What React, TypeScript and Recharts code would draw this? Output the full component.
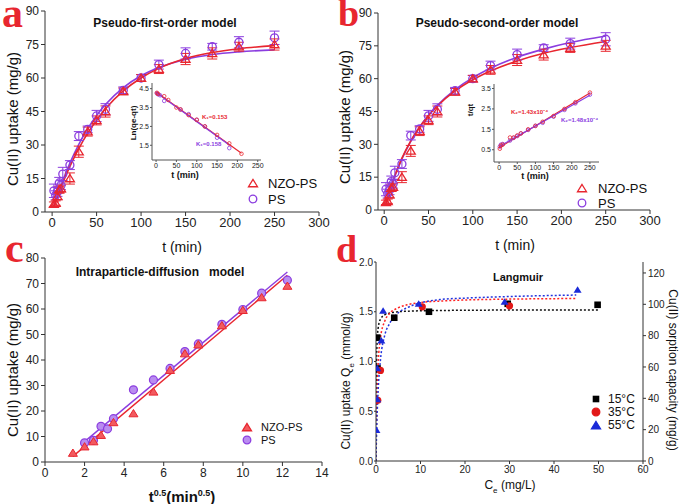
import React from "react";
import {
  ComposedChart,
  Scatter,
  Line,
  XAxis,
  YAxis,
  ErrorBar,
} from "recharts";

const FONT = '"Liberation Sans", Arial, sans-serif';
const RED = "#e8262f";
const PURPLE = "#8b3ddf";
const AXIS = "#333";

// kinetic data (panels a, b)
const NZO_T = [2, 4, 6, 8, 10, 20, 30, 40, 50, 60, 80, 100, 120, 150, 180, 210, 250];
const NZO_Q = [3.5, 4, 7, 10, 10.5, 15, 27, 36, 41, 45, 54, 60, 64, 68.5, 71, 74, 75];
const NZO_ERR = [1, 1, 1.5, 1.5, 1.5, 2.5, 2.5, 2, 2, 2.5, 1.5, 1.5, 2, 2.5, 2.5, 2, 2.5];
const PS_T = [2, 4, 6, 8, 10, 12, 20, 30, 40, 50, 60, 80, 100, 120, 150, 180, 210, 250];
const PS_Q = [9.5, 7.5, 9, 13, 12, 17, 21, 34, 37, 43, 46, 54.5, 60, 66, 71, 74, 76, 78];
const PS_ERR = [3, 2, 2, 2.5, 2, 3, 2, 2, 1.5, 2.5, 2.5, 1.5, 1.5, 2, 2.5, 1.5, 2.5, 3];

// fitted curves
const FIT_T = [2, 5, 10, 20, 30, 40, 50, 60, 80, 100, 120, 150, 180, 210, 250];
const PFO_NZO = [2.3, 5.7, 11.0, 20.4, 28.4, 35.3, 41.1, 46.2, 54.2, 60.0, 64.3, 68.7, 71.4, 73.1, 74.5];
const PFO_PS = [2.6, 6.2, 11.9, 21.9, 30.3, 37.3, 43.2, 48.1, 55.7, 61.0, 64.7, 68.3, 70.5, 71.7, 72.6];
const PSO_NZO = [3.0, 7.3, 13.5, 23.7, 31.6, 37.9, 43.2, 47.5, 54.4, 59.5, 63.5, 68.1, 71.6, 74.2, 77.0];
const PSO_PS = [2.9, 7.1, 13.2, 23.3, 31.4, 37.9, 43.3, 47.8, 55.0, 60.5, 64.8, 69.8, 73.5, 76.5, 79.5];

// inset a: ln(qe-qt)
const LN_NZO_T = [2, 5, 20, 30, 50, 60, 80, 100, 120, 150, 180, 210];
const LN_NZO = [4.28, 4.22, 4.1, 3.9, 3.5, 3.4, 3.1, 2.85, 2.5, 2.05, 1.6, 1.05];
const LN_PS_T = [2, 5, 10, 20, 60, 80, 100, 120, 150, 180];
const LN_PS = [4.25, 4.2, 4.15, 3.85, 3.4, 3.15, 2.85, 2.5, 1.9, 1.35];
const LN_FIT_NZO = [[0, 4.32], [210, 1.08]];
const LN_FIT_PS = [[0, 4.3], [180, 1.52]];

// inset b: t/qt
const TQ_T = [2, 5, 10, 30, 40, 50, 60, 80, 100, 120, 150, 180, 210, 250];
const TQ_NZO = [0.55, 0.7, 0.75, 1.1, 1.1, 1.2, 1.3, 1.5, 1.67, 1.87, 2.15, 2.5, 2.83, 3.3];
const TQ_PS = [0.65, 0.75, 0.78, 0.95, 1.08, 1.17, 1.3, 1.47, 1.67, 1.82, 2.12, 2.45, 2.77, 3.2];
const TQ_FIT_NZO = [[0, 0.6], [250, 3.28]];
const TQ_FIT_PS = [[0, 0.66], [250, 3.17]];

// panel c: intraparticle diffusion
const IPD_NZO_X = [1.41, 2, 2.45, 2.83, 3.46, 4.47, 5.48, 6.32, 7.07, 7.75, 8.94, 10, 10.95, 12.25];
const IPD_NZO_Y = [3.5, 6, 8, 10.5, 15.5, 19, 27.5, 36, 42.5, 46, 53.5, 59.5, 64.5, 69];
const IPD_PS_X = [2, 2.45, 2.83, 3.16, 3.46, 4.47, 5.48, 6.32, 7.07, 7.75, 8.94, 10, 10.95, 12.25];
const IPD_PS_Y = [7.5, 8.5, 14, 13, 17, 28.3, 32.2, 36.7, 43.3, 46.3, 54, 59.8, 66.2, 71.3];
const IPD_FIT_NZO = [[1.41, 2.2], [12.25, 73.2]];
const IPD_FIT_PS = [[2, 8], [12.25, 74.5]];

// panel d: Langmuir
const L15_C = [0.3, 0.35, 4.1, 11.9, 29.6, 49.8];
const L15_Q = [1.24, 0.93, 1.44, 1.5, 1.58, 1.57];
const L35_C = [0.4, 1.0, 10.4, 30];
const L35_Q = [0.61, 0.91, 1.55, 1.56];
const L55_C = [0.1, 0.3, 0.3, 1.2, 1.6, 9.6, 28.9, 45.3];
const L55_Q = [0.31, 0.62, 0.93, 1.21, 1.51, 1.58, 1.6, 1.72];
const LFIT_C = [0, 0.05, 0.1, 0.2, 0.5, 1, 2, 3, 5, 7, 10, 15, 20, 30, 45, 50];
const LFIT_15 = [0, 0.65, 0.91, 1.14, 1.34, 1.425, 1.47, 1.486, 1.5, 1.505, 1.51, 1.513, 1.515, 1.517, 1.518, 1.518];
const LFIT_C2 = [0, 0.05, 0.1, 0.2, 0.5, 1, 2, 3, 5, 7, 10, 15, 20, 30, 45];
const LFIT_35 = [0, 0.215, 0.38, 0.617, 0.987, 1.234, 1.41, 1.48, 1.54, 1.57, 1.592, 1.609, 1.618, 1.627, 1.633];
const LFIT_55 = [0, 0.118, 0.22, 0.39, 0.724, 1.014, 1.27, 1.377, 1.49, 1.54, 1.59, 1.625, 1.637, 1.653, 1.668];

const pts = (xs: number[], ys: number[], es?: number[]) =>
  xs.map((x, i) => ({ x, y: ys[i], e: es ? es[i] : 0 }));
const seg = (p: number[][]) => p.map(([x, y]) => ({ x, y }));

function Tri({ cx, cy, color, fill, s = 4.5, w = 1.3 }: any) {
  if (cx == null || cy == null) return null;
  const h = s * 0.9;
  return (
    <polygon
      points={`${cx},${cy - h} ${cx - s},${cy + h * 0.8} ${cx + s},${cy + h * 0.8}`}
      fill={fill}
      stroke={color}
      strokeWidth={w}
    />
  );
}

function Circ({ cx, cy, color, fill, r = 4, w = 1.3 }: any) {
  if (cx == null || cy == null) return null;
  return <circle cx={cx} cy={cy} r={r} fill={fill} stroke={color} strokeWidth={w} />;
}

function Sq({ cx, cy, color, s = 3.5 }: any) {
  if (cx == null || cy == null) return null;
  return <rect x={cx - s} y={cy - s} width={s * 2} height={s * 2} fill={color} />;
}

function T({ x, y, size, children, bold, color = "#111", rot, left }: any) {
  const tr = left
    ? `translate(0,-50%)`
    : `translate(-50%,-50%)${rot ? ` rotate(${rot}deg)` : ""}`;
  return (
    <div
      style={{
        position: "absolute",
        left: x,
        top: y,
        transform: tr,
        fontSize: size,
        fontWeight: bold ? "bold" : "normal",
        color,
        fontFamily: FONT,
        whiteSpace: "pre",
        lineHeight: 1,
      }}
    >
      {children}
    </div>
  );
}

// big red panel letter; baseline sits about 0.64*size below top
function Letter({ x, y, ch, size = 42 }: any) {
  return (
    <div
      style={{
        position: "absolute",
        left: x,
        top: y,
        fontSize: size,
        lineHeight: 0.6,
        fontWeight: "bold",
        color: RED,
        fontFamily: '"Liberation Serif", "Times New Roman", serif',
      }}
    >
      {ch}
    </div>
  );
}

const tickStyle = (fs: number) => ({ fontSize: fs, fill: "#222", fontFamily: FONT });

function Frame({ xd, yd }: { xd: number[]; yd: number[] }) {
  return [
    <XAxis
      key="top"
      xAxisId="top"
      orientation="top"
      type="number"
      domain={xd}
      height={0}
      tick={false}
      tickLine={false}
      axisLine={{ stroke: AXIS }}
      allowDataOverflow
    />,
    <YAxis
      key="right"
      yAxisId="right"
      orientation="right"
      type="number"
      domain={yd}
      width={0}
      tick={false}
      tickLine={false}
      axisLine={{ stroke: AXIS }}
      allowDataOverflow
    />,
  ];
}

function KineticPanel({ left, margin, xd, yw, fitN, fitP }: any) {
  return (
    <div style={{ position: "absolute", left, top: 0 }}>
      <ComposedChart width={left === 0 ? 340 : 345} height={250} margin={margin}>
        <XAxis
          dataKey="x"
          type="number"
          domain={xd}
          ticks={[0, 50, 100, 150, 200, 250, 300]}
          tick={tickStyle(13)}
          tickSize={4}
          tickMargin={2}
          height={30}
          stroke={AXIS}
          allowDataOverflow
        />
        <YAxis
          dataKey="y"
          type="number"
          domain={[0, 90]}
          ticks={[0, 15, 30, 45, 60, 75, 90]}
          tick={tickStyle(12)}
          tickSize={4}
          tickMargin={2}
          width={yw}
          stroke={AXIS}
          allowDataOverflow
        />
        {Frame({ xd, yd: [0, 90] })}
        <Line data={pts(FIT_T, fitP)} dataKey="y" type="monotone" stroke={PURPLE} strokeWidth={1.6} dot={false} isAnimationActive={false} />
        <Line data={pts(FIT_T, fitN)} dataKey="y" type="monotone" stroke={RED} strokeWidth={1.6} dot={false} isAnimationActive={false} />
        <Scatter
          data={pts(PS_T, PS_Q, PS_ERR)}
          dataKey="y"
          isAnimationActive={false}
          shape={(p: any) => <Circ {...p} color={PURPLE} fill="none" />}
        >
          <ErrorBar dataKey="e" direction="y" width={5} stroke={PURPLE} strokeWidth={1} />
        </Scatter>
        <Scatter
          data={pts(NZO_T, NZO_Q, NZO_ERR)}
          dataKey="y"
          isAnimationActive={false}
          shape={(p: any) => <Tri {...p} color={RED} fill="none" />}
        >
          <ErrorBar dataKey="e" direction="y" width={5} stroke={RED} strokeWidth={1} />
        </Scatter>
      </ComposedChart>
    </div>
  );
}

function Inset({ left, margin, xd, xt, yd, yt, nzo, ps, fitN, fitP }: any) {
  return (
    <div style={{ position: "absolute", left, top: 78 }}>
      <ComposedChart width={140} height={105} margin={margin}>
        <XAxis
          dataKey="x"
          type="number"
          domain={xd}
          ticks={xt}
          tick={tickStyle(7)}
          tickSize={2}
          tickMargin={1}
          height={12}
          stroke="#555"
          allowDataOverflow
        />
        <YAxis
          dataKey="y"
          type="number"
          domain={yd}
          ticks={yt}
          tick={tickStyle(7)}
          tickFormatter={(v: number) => v.toFixed(1)}
          tickSize={2}
          tickMargin={1}
          width={15}
          stroke="#555"
          allowDataOverflow
        />
        {Frame({ xd, yd })}
        <Line data={seg(fitN)} dataKey="y" type="linear" stroke={RED} strokeWidth={1.2} dot={false} isAnimationActive={false} />
        <Line data={seg(fitP)} dataKey="y" type="linear" stroke={PURPLE} strokeWidth={1.2} dot={false} isAnimationActive={false} />
        <Scatter data={ps} dataKey="y" isAnimationActive={false} shape={(p: any) => <Circ {...p} r={1.8} w={0.8} color={PURPLE} fill="none" />} />
        <Scatter data={nzo} dataKey="y" isAnimationActive={false} shape={(p: any) => <Circ {...p} r={1.8} w={0.8} color={RED} fill="none" />} />
      </ComposedChart>
    </div>
  );
}

function LegendMark({ x, y, kind, color, fill }: any) {
  return (
    <svg style={{ position: "absolute", left: x - 6, top: y - 6 }} width={12} height={12}>
      {kind === "tri" && <Tri cx={6} cy={6.5} color={color} fill={fill} s={4.5} />}
      {kind === "circ" && <Circ cx={6} cy={6} r={3.8} color={color} fill={fill} />}
      {kind === "sq" && <Sq cx={6} cy={6} color={color} s={3.3} />}
    </svg>
  );
}

export default function App() {
  return (
    <div
      style={{
        position: "absolute",
        left: 0,
        top: 0,
        width: 685,
        height: 504,
        background: "#fff",
        overflow: "hidden",
      }}
    >
      {/* panel a */}
      <KineticPanel
        left={0}
        margin={{ top: 11, right: 21, left: 5, bottom: 8 }}
        xd={[-8, 300]}
        yw={40}
        fitN={PFO_NZO}
        fitP={PFO_PS}
      />
      {/* panel b */}
      <KineticPanel
        left={340}
        margin={{ top: 13, right: 35, left: 3, bottom: 10 }}
        xd={[-7, 300]}
        yw={35}
        fitN={PSO_NZO}
        fitP={PSO_PS}
      />
      <Inset
        left={125}
        margin={{ top: 5, right: 4, left: 12, bottom: 11 }}
        xd={[-10, 258]}
        xt={[0, 50, 100, 150, 200, 250]}
        yd={[0.72, 4.8]}
        yt={[1, 1.5, 2, 2.5, 3, 3.5, 4, 4.5]}
        nzo={pts(LN_NZO_T, LN_NZO)}
        ps={pts(LN_PS_T, LN_PS)}
        fitN={LN_FIT_NZO}
        fitP={LN_FIT_PS}
      />
      <Inset
        left={465}
        margin={{ top: 6, right: 6, left: 14, bottom: 9 }}
        xd={[-14, 275]}
        xt={[0, 50, 100, 150, 200, 250]}
        yd={[-0.1, 3.72]}
        yt={[0, 0.5, 1, 1.5, 2, 2.5, 3, 3.5]}
        nzo={pts(TQ_T, TQ_NZO)}
        ps={pts(TQ_T, TQ_PS)}
        fitN={TQ_FIT_NZO}
        fitP={TQ_FIT_PS}
      />

      {/* panel c */}
      <div style={{ position: "absolute", left: 0, top: 250 }}>
        <ComposedChart width={340} height={254} margin={{ top: 8, right: 18, left: 5, bottom: 17 }}>
          <XAxis
            dataKey="x"
            type="number"
            domain={[0, 14]}
            ticks={[0, 2, 4, 6, 8, 10, 12, 14]}
            tick={tickStyle(12)}
            tickSize={4}
            tickMargin={2}
            height={25}
            stroke={AXIS}
            allowDataOverflow
          />
          <YAxis
            dataKey="y"
            type="number"
            domain={[0, 80]}
            ticks={[0, 10, 20, 30, 40, 50, 60, 70, 80]}
            tick={tickStyle(12)}
            tickSize={4}
            tickMargin={2}
            width={40}
            stroke={AXIS}
            allowDataOverflow
          />
          {Frame({ xd: [0, 14], yd: [0, 80] })}
          <Line data={seg(IPD_FIT_PS)} dataKey="y" type="linear" stroke={PURPLE} strokeWidth={1.4} dot={false} isAnimationActive={false} />
          <Line data={seg(IPD_FIT_NZO)} dataKey="y" type="linear" stroke={RED} strokeWidth={1.4} dot={false} isAnimationActive={false} />
          <Scatter data={pts(IPD_PS_X, IPD_PS_Y)} dataKey="y" isAnimationActive={false} shape={(p: any) => <Circ {...p} r={4} w={1.2} color={PURPLE} fill="#b98cf0" />} />
          <Scatter data={pts(IPD_NZO_X, IPD_NZO_Y)} dataKey="y" isAnimationActive={false} shape={(p: any) => <Tri {...p} s={4.5} w={1} color={RED} fill="#f25a5f" />} />
        </ComposedChart>
      </div>

      {/* panel d */}
      <div style={{ position: "absolute", left: 340, top: 250 }}>
        <ComposedChart width={345} height={254} margin={{ top: 12, right: 12, left: 6, bottom: 18 }}>
          <XAxis
            dataKey="x"
            type="number"
            domain={[0, 60]}
            ticks={[0, 10, 20, 30, 40, 50, 60]}
            tick={tickStyle(10)}
            tickSize={3}
            tickMargin={2}
            height={25}
            stroke={AXIS}
            allowDataOverflow
          />
          <YAxis
            dataKey="y"
            type="number"
            domain={[0, 2]}
            ticks={[0, 0.5, 1, 1.5, 2]}
            tickFormatter={(v: number) => v.toFixed(1)}
            tick={tickStyle(10)}
            tickSize={2}
            tickMargin={1}
            width={30}
            stroke={AXIS}
            allowDataOverflow
          />
          <YAxis
            yAxisId="mg"
            orientation="right"
            type="number"
            domain={[0, 127]}
            ticks={[0, 20, 40, 60, 80, 100, 120]}
            tick={tickStyle(10)}
            tickSize={3}
            tickMargin={2}
            width={30}
            stroke={AXIS}
            allowDataOverflow
          />
          <XAxis
            xAxisId="top"
            orientation="top"
            type="number"
            domain={[0, 60]}
            height={0}
            tick={false}
            tickLine={false}
            axisLine={{ stroke: AXIS }}
            allowDataOverflow
          />
          <Line data={pts(LFIT_C, LFIT_15)} dataKey="y" type="monotone" stroke="#111" strokeWidth={1.5} strokeDasharray="2 2" dot={false} isAnimationActive={false} />
          <Line data={pts(LFIT_C2, LFIT_35)} dataKey="y" type="monotone" stroke="#f22" strokeWidth={1.5} strokeDasharray="2 2" dot={false} isAnimationActive={false} />
          <Line data={pts(LFIT_C2, LFIT_55)} dataKey="y" type="monotone" stroke="#2233dd" strokeWidth={1.5} strokeDasharray="2 2" dot={false} isAnimationActive={false} />
          <Scatter data={pts(L15_C, L15_Q)} dataKey="y" isAnimationActive={false} shape={(p: any) => <Sq {...p} color="#000" s={3.3} />} />
          <Scatter data={pts(L35_C, L35_Q)} dataKey="y" isAnimationActive={false} shape={(p: any) => <Circ {...p} r={3.6} w={0} color="#e21818" fill="#e21818" />} />
          <Scatter data={pts(L55_C, L55_Q)} dataKey="y" isAnimationActive={false} shape={(p: any) => <Tri {...p} s={4} w={0} color="#1a2ad8" fill="#1a2ad8" />} />
        </ComposedChart>
      </div>

      {/* panel letters */}
      <Letter x={2} y={1} ch="a" size={42} />
      <Letter x={338} y={2} ch="b" size={38} />
      <Letter x={5} y={236} ch="c" size={42} />
      <Letter x={336} y={238} ch="d" size={38} />

      {/* titles */}
      <T x={165} y={23} size={12} bold>Pseudo-first-order model</T>
      <T x={497} y={23} size={12} bold>Pseudo-second-order model</T>
      <T x={160} y={272} size={12} bold>{"Intraparticle-diffusion   model"}</T>
      <T x={518} y={277} size={11} bold>Langmuir</T>

      {/* axis labels a, b */}
      <T x={12} y={119} size={15} rot={-90}>Cu(II) uptake (mg/g)</T>
      <T x={182} y={247} size={14}>t (min)</T>
      <T x={344} y={117} size={15} rot={-90}>Cu(II) uptake (mg/g)</T>
      <T x={515} y={245} size={14}>t (min)</T>

      {/* inset labels */}
      <T x={134} y={123} size={8} bold rot={-90}>Ln(qe-qt)</T>
      <T x={185} y={175} size={9} bold>t (min)</T>
      <T x={202} y={117} size={6} bold color={RED} left>K₁=0.153</T>
      <T x={196} y={144} size={6} bold color={PURPLE} left>K₁=0.158</T>
      <T x={471} y={110} size={8} bold rot={-90}>t/qt</T>
      <T x={535} y={176} size={9} bold>t (min)</T>
      <T x={511} y={112} size={6} bold color={RED} left>K₂=1.43x10⁻⁴</T>
      <T x={561} y={120} size={6} bold color={PURPLE} left>K₂=1.48x10⁻⁴</T>

      {/* legends a, b */}
      <LegendMark x={253} y={183} kind="tri" color={RED} fill="none" />
      <T x={268} y={183} size={13} left>NZO-PS</T>
      <LegendMark x={253} y={199} kind="circ" color={PURPLE} fill="none" />
      <T x={268} y={199} size={13} left>PS</T>
      <LegendMark x={582} y={188} kind="tri" color={RED} fill="none" />
      <T x={598} y={188} size={13} left>NZO-PS</T>
      <LegendMark x={582} y={203} kind="circ" color={PURPLE} fill="none" />
      <T x={598} y={203} size={13} left>PS</T>

      {/* panel c labels */}
      <T x={12} y={370} size={15} rot={-90}>Cu(II) uptake (mg/g)</T>
      <T x={182} y={496} size={15} bold>
        t<sup style={{ fontSize: 9 }}>0.5</sup>(min<sup style={{ fontSize: 9 }}>0.5</sup>)
      </T>
      <LegendMark x={247} y={427} kind="tri" color={RED} fill="#f25a5f" />
      <T x={261} y={427} size={11} left>NZO-PS</T>
      <LegendMark x={247} y={440} kind="circ" color={PURPLE} fill="#b98cf0" />
      <T x={261} y={440} size={11} left>PS</T>

      {/* panel d labels */}
      <T x={348} y={381} size={12} rot={-90}>
        Cu(II) uptake Q<sub style={{ fontSize: 8 }}>e</sub> (mmol/g)
      </T>
      <T x={673} y={370} size={12} rot={90}>Cu(II) sorption capacity (mg/g)</T>
      <T x={510} y={487} size={12}>
        C<sub style={{ fontSize: 8 }}>e</sub> (mg/L)
      </T>
      <LegendMark x={596} y={399} kind="sq" color="#000" />
      <T x={608} y={399} size={12} left>15°C</T>
      <LegendMark x={596} y={412} kind="circ" color="#e21818" fill="#e21818" />
      <T x={608} y={412} size={12} left>35°C</T>
      <LegendMark x={596} y={425} kind="tri" color="#1a2ad8" fill="#1a2ad8" />
      <T x={608} y={425} size={12} left>55°C</T>
    </div>
  );
}
